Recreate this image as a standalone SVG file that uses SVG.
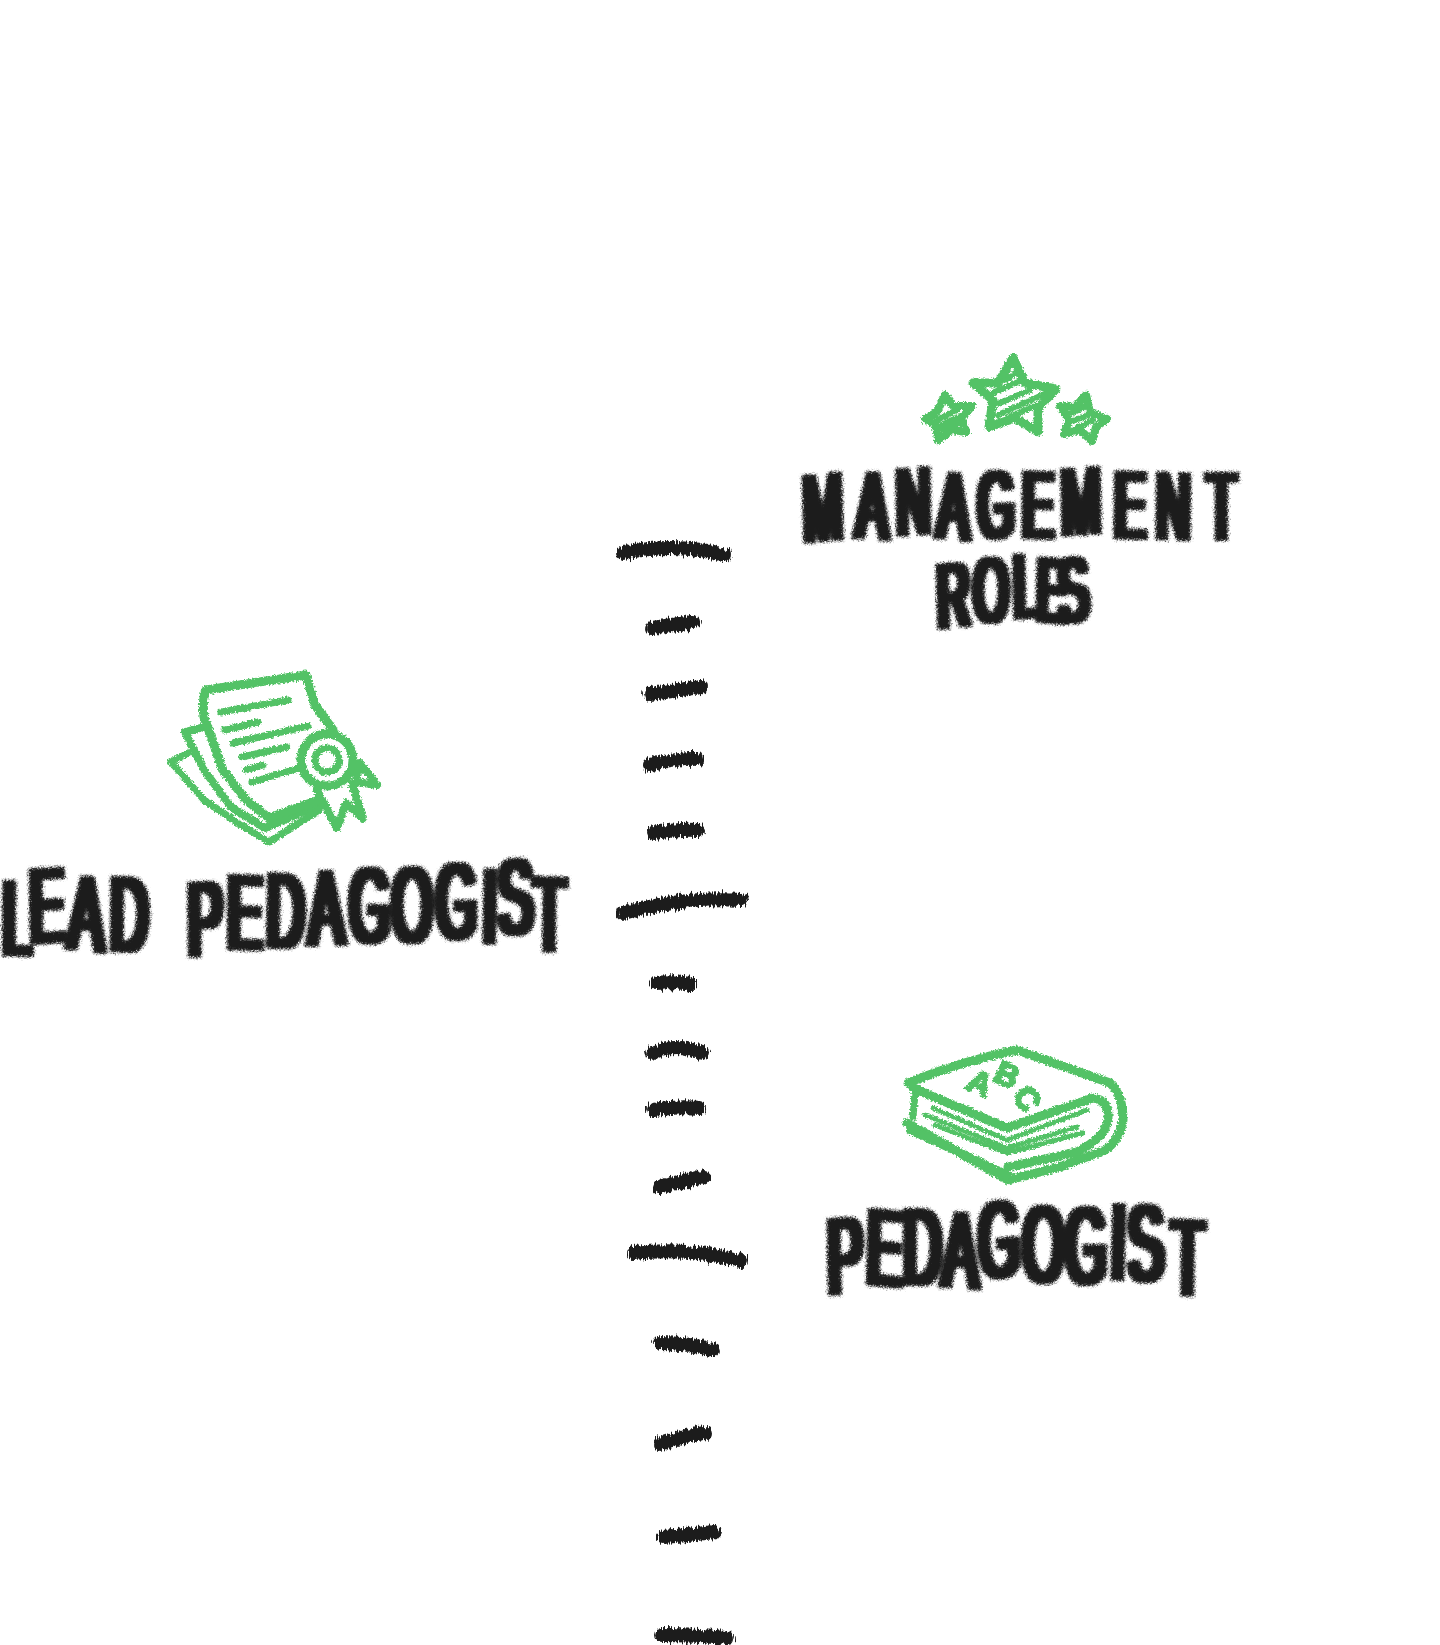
<svg xmlns="http://www.w3.org/2000/svg" width="1440" height="1645" viewBox="0 0 1440 1645">
<defs>
<filter id="chalk" x="-10%" y="-20%" width="120%" height="140%">
<feTurbulence type="fractalNoise" baseFrequency="0.55" numOctaves="2" seed="4" result="n"/>
<feDisplacementMap in="SourceGraphic" in2="n" scale="5" xChannelSelector="R" yChannelSelector="G"/>
<feGaussianBlur stdDeviation="0.5"/>
</filter>
<filter id="letter" x="-5%" y="-15%" width="110%" height="130%">
<feMorphology in="SourceGraphic" operator="dilate" radius="4 0.5" result="m"/>
<feGaussianBlur in="m" stdDeviation="1" result="b"/>
<feTurbulence type="fractalNoise" baseFrequency="0.6" numOctaves="2" seed="9" result="n"/>
<feDisplacementMap in="b" in2="n" scale="6" xChannelSelector="R" yChannelSelector="G"/>
<feGaussianBlur stdDeviation="0.4"/>
</filter>
<filter id="bristle" x="-10%" y="-60%" width="120%" height="220%">
<feTurbulence type="fractalNoise" baseFrequency="0.6 0.05" numOctaves="2" seed="7" result="n"/>
<feDisplacementMap in="SourceGraphic" in2="n" scale="10" xChannelSelector="G" yChannelSelector="R"/>
<feGaussianBlur stdDeviation="0.55"/>
</filter>
</defs>
<style>
.lbl{font-family:"Liberation Sans",Arial,sans-serif;font-weight:400;fill:#1c1c1c;stroke:#1c1c1c;stroke-width:2;stroke-linejoin:round}
.ink{fill:none;stroke:#53c266;stroke-linecap:round;stroke-linejoin:round}
.w9{stroke-width:9}.w8{stroke-width:8}.w7{stroke-width:7}.w6{stroke-width:6}.w5{stroke-width:5}
.abc{font-family:"Liberation Sans",Arial,sans-serif;font-weight:700;font-size:32px;fill:#53c266;stroke:#53c266;stroke-width:2.5}
.tick{fill:none;stroke:#1c1c1c;stroke-linecap:round;stroke-width:14}
</style>
<rect width="1440" height="1645" fill="#ffffff"/>
<g id="connectors" filter="url(#bristle)">
<path class="tick" d="M623 553Q677 542 724 555"/>
<path class="tick" d="M652 628L693 622"/>
<path class="tick" d="M650 694Q680 690 701 687"/>
<path class="tick" d="M649 765Q680 758 697 759"/>
<path class="tick" d="M654 833Q680 829 698 830"/>
<path class="tick" d="M623 913Q690 896 741 900"/>
<path class="tick" d="M656 983Q675 981 691 984"/>
<path class="tick" d="M653 1053Q675 1043 702 1053"/>
<path class="tick" d="M654 1110Q680 1106 699 1108"/>
<path class="tick" d="M659 1187Q685 1180 704 1177"/>
<path class="tick" d="M633 1253Q690 1247 741 1261"/>
<path class="tick" d="M660 1343Q690 1343 713 1350"/>
<path class="tick" d="M660 1444Q690 1434 706 1433"/>
<path class="tick" d="M663 1537Q690 1535 715 1532"/>
<path class="tick" d="M661 1635Q695 1635 727 1638"/>
</g>
<g id="management-roles">
<g filter="url(#chalk)">
<path class="ink w9" d="M1013 358L1025 383L1056 389L1038 408L1038 432L1015 418L989 427L993 400L973 383L998 383Z"/>
<path class="ink w6" d="M1005 380L1017 373M992 393L1023 380M995 405L1030 390M998 415L1047 393M1007 418L1037 405"/>
<path class="ink w8" d="M945 395L953 406L972 406L962 418L966 432L952 430L938 440L936 425L925 419L937 412Z"/>
<path class="ink w6" d="M937 420L957 410M935 428L963 415M943 430L960 423"/>
<path class="ink w8" d="M1086 395L1090 412L1107 419L1096 427L1092 441L1080 430L1064 434L1069 420L1060 406L1075 407Z"/>
<path class="ink w6" d="M1068 415L1088 405M1068 423L1093 413M1077 428L1093 420"/>
</g>
<g filter="url(#letter)">
<text class="lbl" transform="scale(.5 1)" font-size="94" x="1608 1712 1794 1874 1956 2044 2124 2228 2312 2414" y="542 537 535 537 538 537 535 537 538 539" rotate="-3 2 -2 3 -1 1 -2 1 1 0">MANAGEMENT</text>
<text class="lbl" transform="scale(.5 1)" font-size="90" x="1876 1946 2028 2072 2120" y="628 620 618 620 624" rotate="-3 2 -2 3 -6">ROLES</text>
</g>
</g>
<g id="lead-pedagogist">
<g filter="url(#chalk)">
<path class="ink w8" d="M204 727L185 732L204 770L231 807L265 828L319 805"/>
<path class="ink w7" d="M188 753L171 762L204 800L238 823L269 842L319 810"/>
<path class="ink w9" d="M333 730L315 705L306 675L206 690Q202 700 204 717L223 770L246 800L269 818L319 800"/>
<path class="ink w7" d="M221 712L288 700M225 730L258 722M233 743L308 726M242 757L287 747M246 770L263 765M252 782L296 769"/>
<circle class="ink w9" cx="327" cy="760" r="26"/>
<circle class="ink w7" cx="327" cy="760" r="12"/>
<path class="ink w8" d="M317 790L337 828L346 803L363 818L352 783"/>
<path class="ink w8" d="M360 763L377 785L356 782Z"/>
</g>
<g filter="url(#letter)">
<text class="lbl" transform="scale(.5 1)" font-size="105" x="4 60 136 220 340 376 454 532 618 698 784 872 964 998 1066" y="954 943 948 950 950 956 948 946 945 941 942 938 942 935 950" rotate="1 -2 3 1 0 -1 1 2 -1 1 -1 0 2 -3 1">LEAD PEDAGOGIST</text>
</g>
</g>
<g id="pedagogist">
<g filter="url(#chalk)">
<path class="ink w9" d="M908 1083Q965 1060 1017 1050Q1060 1065 1110 1083Q1123 1095 1123 1120Q1120 1140 1105 1150L1060 1167L1008 1180L907 1123"/>
<path class="ink w9" d="M913 1088L1007 1128L1093 1098Q1108 1100 1108 1115Q1110 1135 1077 1152L1008 1167"/>
<path class="ink w7" d="M915 1092L913 1117"/>
<path class="ink w5" d="M933 1108L1007 1140L1087 1110M925 1115L1007 1148L1077 1127M935 1125L1007 1153L1083 1133"/>
<path class="ink w8" d="M910 1130L1008 1175"/>
<text class="abc" x="965 992 1012" y="1088 1080 1094" rotate="25 25 60">ABC</text>
</g>
<g filter="url(#letter)">
<text class="lbl" transform="scale(.5 1)" font-size="107" x="1656 1732 1806 1884 1958 2044 2130 2220 2258 2342" y="1294 1283 1284 1286 1278 1280 1283 1278 1282 1294" rotate="-2 3 0 2 -2 2 0 3 -3 1">PEDAGOGIST</text>
</g>
</g>
</svg>
